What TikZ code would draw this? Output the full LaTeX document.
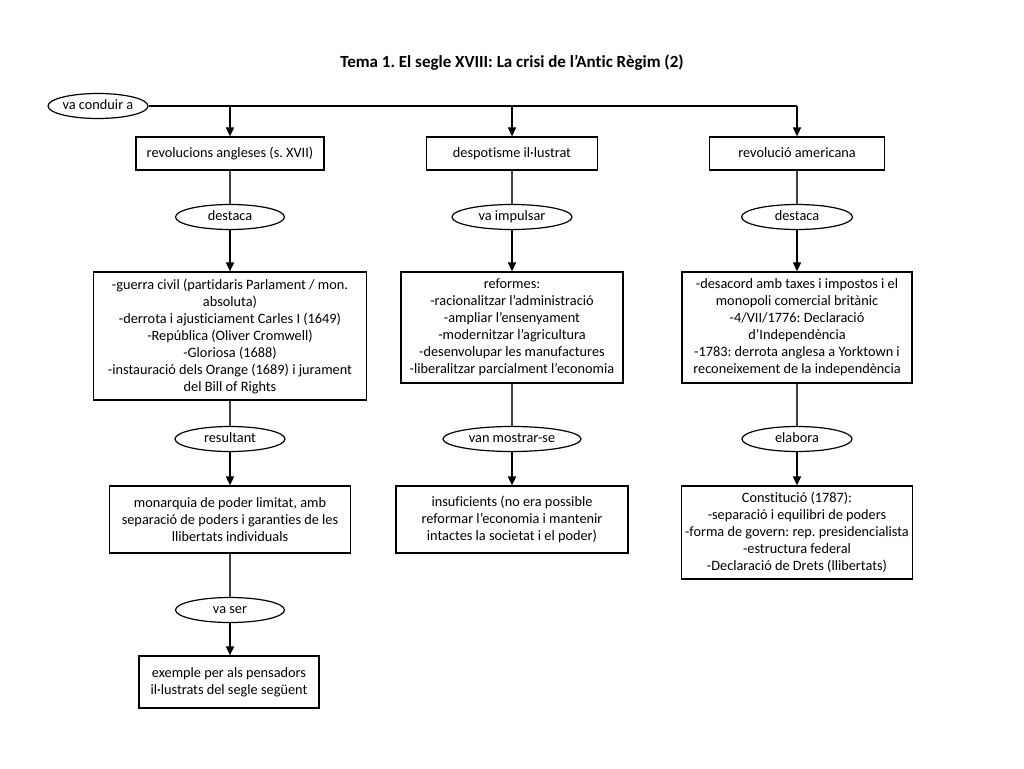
\documentclass[tikz,border=0pt]{standalone}
\usepackage{fontspec}
\setmainfont{Carlito}[Ligatures=NoCommon]
\usetikzlibrary{shapes.geometric,arrows.meta}
\frenchspacing

\begin{document}
\begin{tikzpicture}[
    x = 1pt,
    y = -1pt,
    >={Triangle[length=9pt,width=8pt]},
    box/.style = {draw, rectangle, line width=1.2pt, align=center,
              inner sep=0pt, font=\fontsize{14.3}{17}\selectfont},
    single/.style = {text height=10pt, text depth=3pt},
    link/.style = {draw, ellipse, line width=1.2pt, minimum height=25pt,
              inner sep=0pt, text height=10pt, text depth=3pt,
              font=\fontsize{14.3}{17}\selectfont},
    arrow/.style = {->, line width=1.6pt},
    plain/.style = {line width=1.2pt, draw=black!75},
    ]

\useasboundingbox (0,0) rectangle (1024,768);

\node[font=\fontsize{17}{20}\selectfont\bfseries] (title) at (512,63){Tema 1. El segle XVIII: La crisi de l’Antic Règim (2)};

\node[link, minimum width=96pt] (conduir) at (98,106){va conduir a};
\coordinate (j1) at (230,106);
\coordinate (j2) at (512,106);
\coordinate (j3) at (797,106);

% first row
\node[box, single, minimum width=188pt, minimum height=33pt] (angl) at (230,153.5){revolucions angleses (s. XVII)};
\node[box, single, minimum width=171pt, minimum height=33pt] (desp) at (512,153.5){despotisme il·lustrat};
\node[box, single, minimum width=175pt, minimum height=33pt] (amer) at (797,153.5){revolució americana};

\node[link, minimum width=109pt] (destaca_1) at (230,217){destaca};
\node[link, minimum width=120pt] (impulsar) at (512,217){va impulsar};
\node[link, minimum width=111pt] (destaca_2) at (797,217){destaca};

% second row
\node[box, minimum width=273pt, minimum height=128pt] (fets_angl) at (230,336){-guerra civil (partidaris Parlament / mon.\\ absoluta)\\ -derrota i ajusticiament Carles I (1649)\\ -República (Oliver Cromwell)\\ -Gloriosa (1688)\\ -instauració dels Orange (1689) i jurament\\ del Bill of Rights};
\node[box, minimum width=222pt, minimum height=111pt] (reformes) at (512,327.5){reformes:\\ -racionalitzar l’administració\\ -ampliar l’ensenyament\\ -modernitzar l’agricultura\\ -desenvolupar les manufactures\\ -liberalitzar parcialment l’economia};
\node[box, minimum width=230pt, minimum height=111pt] (fets_amer) at (797,327.5){-desacord amb taxes i impostos i el\\ monopoli comercial britànic\\ -4/VII/1776: Declaració\\ d’Independència\\ -1783: derrota anglesa a Yorktown i\\ reconeixement de la independència};

\node[link, minimum width=110pt] (resultant) at (230,439){resultant};
\node[link, minimum width=138pt] (mostrar) at (512,439){van mostrar-se};
\node[link, minimum width=110pt] (elabora) at (797,439){elabora};

% third row
\node[box, minimum width=241pt, minimum height=67pt] (monarquia) at (230,519.5){monarquia de poder limitat, amb\\ separació de poders i garanties de les\\ llibertats individuals};
\node[box, minimum width=232pt, minimum height=67pt] (insuf) at (512,519.5){insuficients (no era possible\\ reformar l’economia i mantenir\\ intactes la societat i el poder)};
\node[box, minimum width=231pt, minimum height=93pt] (constitucio) at (797,532.5){Constitució (1787):\\ -separació i equilibri de poders\\ -forma de govern: rep. presidencialista\\ -estructura federal\\ -Declaració de Drets (llibertats)};

\node[link, minimum width=109pt] (vaser) at (230,610){va ser};
\node[box, minimum width=180pt, minimum height=52pt] (exemple) at (229,682){exemple per als pensadors\\ il·lustrats del segle següent};

% connectors
\draw[line width=1.6pt] (conduir.east) -- (j3);
\draw[arrow] (j1) -- (angl.north);
\draw[arrow] (j2) -- (desp.north);
\draw[arrow] (j3) -- (amer.north);

\draw[plain] (angl) -- (destaca_1);
\draw[plain] (desp) -- (impulsar);
\draw[plain] (amer) -- (destaca_2);
\draw[arrow] (destaca_1) -- (fets_angl);
\draw[arrow] (impulsar) -- (reformes);
\draw[arrow] (destaca_2) -- (fets_amer);

\draw[plain] (fets_angl) -- (resultant);
\draw[plain] (reformes) -- (mostrar);
\draw[plain] (fets_amer) -- (elabora);
\draw[arrow] (resultant) -- (monarquia);
\draw[arrow] (mostrar) -- (insuf);
\draw[arrow] (elabora) -- (constitucio.north -| elabora);

\draw[plain] (monarquia) -- (vaser);
\draw[arrow] (vaser) -- (exemple.north -| vaser);

\end{tikzpicture}
\end{document}
